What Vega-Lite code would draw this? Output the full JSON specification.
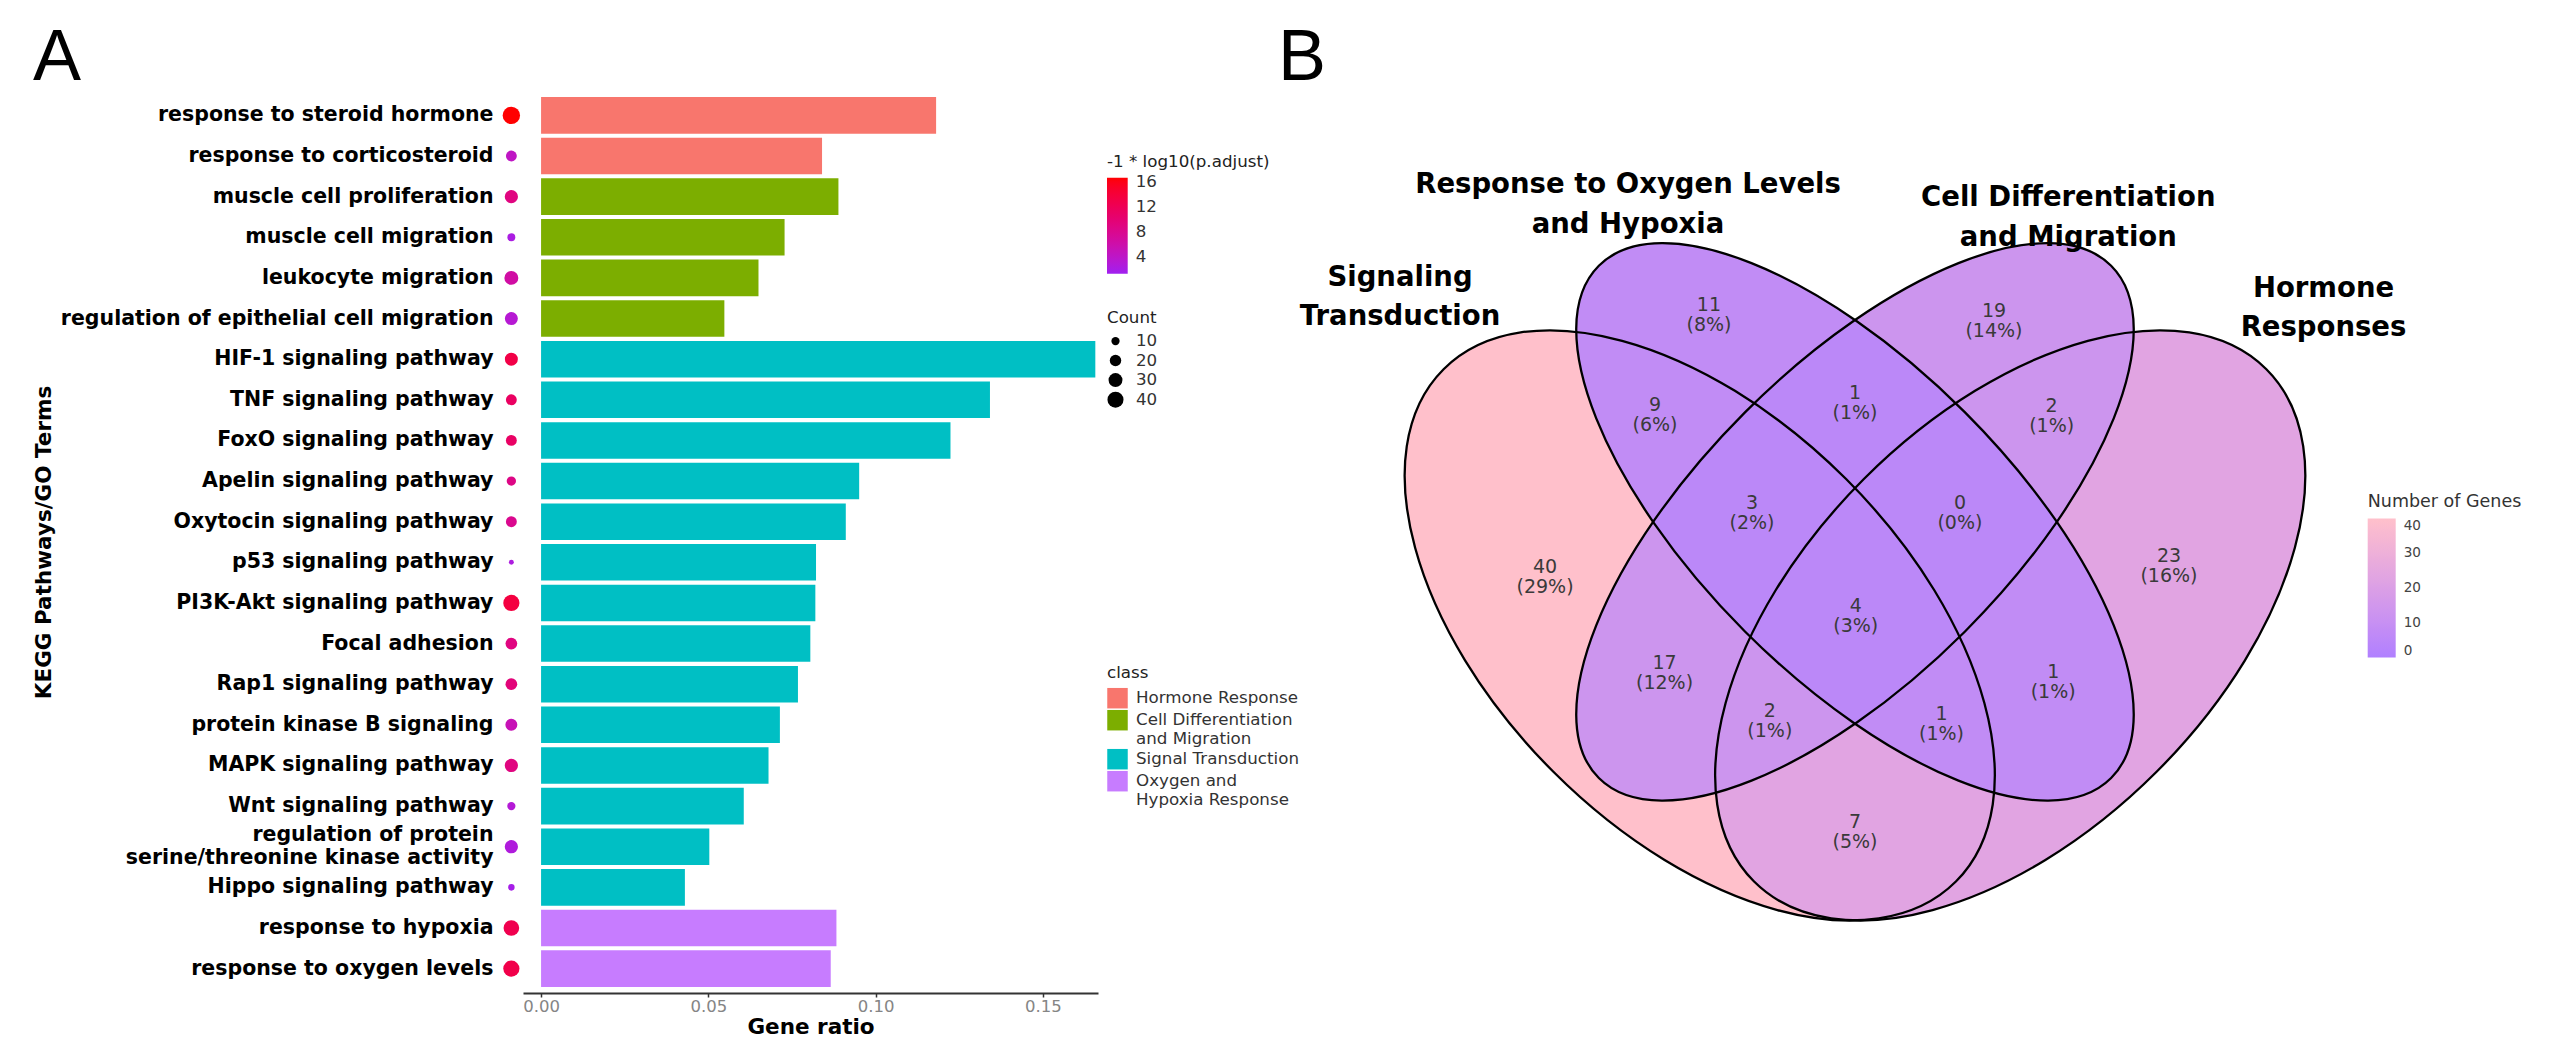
{
  "$schema": "https://vega.github.io/schema/vega-lite/v6.json",
  "padding": {"left": 32, "top": 22, "right": 0, "bottom": 0},
  "autosize": {"type": "pad"},
  "bounds": "flush",
  "spacing": 180,
  "config": {"view": {"stroke": null}, "font": "DejaVu Sans", "axis": {"grid": false}},
  "resolve": {"scale": {"color": "independent", "size": "independent", "shape": "independent"}, "legend": {"color": "independent", "size": "independent"}},
  "datasets": {
    "terms": [
      {"term": "response to steroid hormone", "class": "Hormone Response", "ratio": 0.1181, "nlp": 16.6, "count": 47},
      {"term": "response to corticosteroid", "class": "Hormone Response", "ratio": 0.0840, "nlp": 4.2, "count": 18},
      {"term": "muscle cell proliferation", "class": "Cell Differentiation and Migration", "ratio": 0.0889, "nlp": 9.0, "count": 27},
      {"term": "muscle cell migration", "class": "Cell Differentiation and Migration", "ratio": 0.0728, "nlp": 2.2, "count": 9},
      {"term": "leukocyte migration", "class": "Cell Differentiation and Migration", "ratio": 0.0650, "nlp": 6.5, "count": 30},
      {"term": "regulation of epithelial cell migration", "class": "Cell Differentiation and Migration", "ratio": 0.0548, "nlp": 3.2, "count": 26},
      {"term": "HIF-1 signaling pathway", "class": "Signal Transduction", "ratio": 0.1657, "nlp": 13.0, "count": 26},
      {"term": "TNF signaling pathway", "class": "Signal Transduction", "ratio": 0.1342, "nlp": 11.2, "count": 18},
      {"term": "FoxO signaling pathway", "class": "Signal Transduction", "ratio": 0.1224, "nlp": 11.0, "count": 18},
      {"term": "Apelin signaling pathway", "class": "Signal Transduction", "ratio": 0.0951, "nlp": 8.6, "count": 13},
      {"term": "Oxytocin signaling pathway", "class": "Signal Transduction", "ratio": 0.0911, "nlp": 8.0, "count": 18},
      {"term": "p53 signaling pathway", "class": "Signal Transduction", "ratio": 0.0822, "nlp": 2.4, "count": 3},
      {"term": "PI3K-Akt signaling pathway", "class": "Signal Transduction", "ratio": 0.0820, "nlp": 13.5, "count": 41},
      {"term": "Focal adhesion", "class": "Signal Transduction", "ratio": 0.0805, "nlp": 9.0, "count": 21},
      {"term": "Rap1 signaling pathway", "class": "Signal Transduction", "ratio": 0.0768, "nlp": 9.5, "count": 21},
      {"term": "protein kinase B signaling", "class": "Signal Transduction", "ratio": 0.0714, "nlp": 5.2, "count": 22},
      {"term": "MAPK signaling pathway", "class": "Signal Transduction", "ratio": 0.0680, "nlp": 9.0, "count": 27},
      {"term": "Wnt signaling pathway", "class": "Signal Transduction", "ratio": 0.0606, "nlp": 3.0, "count": 10},
      {"term": "regulation of protein serine/threonine kinase activity", "class": "Signal Transduction", "ratio": 0.0503, "nlp": 2.6, "count": 27},
      {"term": "Hippo signaling pathway", "class": "Signal Transduction", "ratio": 0.0430, "nlp": 1.8, "count": 6},
      {"term": "response to hypoxia", "class": "Oxygen and Hypoxia Response", "ratio": 0.0883, "nlp": 12.5, "count": 38},
      {"term": "response to oxygen levels", "class": "Oxygen and Hypoxia Response", "ratio": 0.0866, "nlp": 12.8, "count": 41}
    ],
    "sets": [
      {"set": "Signaling Transduction", "u": 0.35, "v": 0.47, "a": 0.35, "kind": "outer", "rotation": 45, "unique": 40},
      {"set": "Hormone Responses", "u": 0.65, "v": 0.47, "a": 0.35, "kind": "outer", "rotation": 135, "unique": 23},
      {"set": "Cell Differentiation and Migration", "u": 0.5, "v": 0.57, "a": 0.35, "kind": "inner", "rotation": 135, "unique": 19},
      {"set": "Response to Oxygen Levels and Hypoxia", "u": 0.5, "v": 0.57, "a": 0.35, "kind": "inner", "rotation": 45, "unique": 11}
    ],
    "regions": [
      {"u": 0.2005, "v": 0.5171, "n": 40, "pct": 29},
      {"u": 0.3589, "v": 0.7701, "n": 11, "pct": 8},
      {"u": 0.6343, "v": 0.7639, "n": 19, "pct": 14},
      {"u": 0.8034, "v": 0.5277, "n": 23, "pct": 16},
      {"u": 0.3068, "v": 0.6735, "n": 9, "pct": 6},
      {"u": 0.5, "v": 0.6845, "n": 1, "pct": 1},
      {"u": 0.6900, "v": 0.6722, "n": 2, "pct": 1},
      {"u": 0.4005, "v": 0.5783, "n": 3, "pct": 2},
      {"u": 0.6014, "v": 0.5783, "n": 0, "pct": 0},
      {"u": 0.5007, "v": 0.4795, "n": 4, "pct": 3},
      {"u": 0.3160, "v": 0.4237, "n": 17, "pct": 12},
      {"u": 0.6915, "v": 0.4157, "n": 1, "pct": 1},
      {"u": 0.4177, "v": 0.3776, "n": 2, "pct": 1},
      {"u": 0.5836, "v": 0.3744, "n": 1, "pct": 1},
      {"u": 0.5, "v": 0.2707, "n": 7, "pct": 5}
    ],
    "setlabels": [
      {"name": "Signaling\nTransduction", "u": 0.0604, "v": 0.7870},
      {"name": "Response to Oxygen Levels\nand Hypoxia", "u": 0.2807, "v": 0.8761},
      {"name": "Cell Differentiation\nand Migration", "u": 0.7061, "v": 0.8636},
      {"name": "Hormone\nResponses", "u": 0.9527, "v": 0.7763}
    ]
  },
  "hconcat": [
    {
      "width": 575,
      "height": 902,
      "title": {"text": "A", "anchor": "start", "frame": "bounds", "font": "Liberation Sans", "fontSize": 72, "fontWeight": "normal", "offset": -4, "color": "black"},
      "data": {"name": "terms"},
      "encoding": {
        "y": {
          "field": "term", "type": "nominal", "sort": null,
          "scale": {"paddingInner": 0.1, "paddingOuter": 0.15},
          "axis": {
            "title": "KEGG Pathways/GO Terms", "titleFont": "DejaVu Sans", "titleFontSize": 21.5, "titleFontWeight": "bold", "titleColor": "black",
            "titleX": -468, "titleAngle": 270, "titleBaseline": "bottom",
            "labelFont": "DejaVu Sans", "labelFontSize": 20.5, "labelFontWeight": "bold", "labelColor": "black", "labelPadding": 30, "labelLimit": 600,
            "labelLineHeight": 23.4,
            "labelOffset": {"condition": {"test": "datum.value == 'regulation of protein serine/threonine kinase activity'", "value": -11.7}, "value": 0},
            "labelExpr": "datum.value == 'regulation of protein serine/threonine kinase activity' ? ['regulation of protein', 'serine/threonine kinase activity'] : datum.label",
            "ticks": false, "domain": false
          }
        }
      },
      "layer": [
        {
          "mark": {"type": "bar"},
          "encoding": {
            "x": {
              "field": "ratio", "type": "quantitative",
              "scale": {"domain": [-0.0054, 0.1665], "nice": false, "zero": false},
              "axis": {"title": "Gene ratio", "values": [0, 0.05, 0.1, 0.15], "format": ".2f", "grid": false,
                "domainColor": "#333333", "domainWidth": 2, "tickColor": "#333333", "tickWidth": 1.5, "tickSize": 4,
                "labelFont": "DejaVu Sans", "labelFontSize": 16.5, "labelColor": "#858585", "labelPadding": 1,
                "titleFont": "DejaVu Sans", "titleFontSize": 21.5, "titleFontWeight": "bold", "titleColor": "black", "titlePadding": 2}
            },
            "color": {
              "field": "class", "type": "nominal",
              "scale": {"domain": ["Hormone Response", "Cell Differentiation and Migration", "Signal Transduction", "Oxygen and Hypoxia Response"], "range": ["#F8766D", "#7CAE00", "#00BFC4", "#C77CFF"]},
              "legend": {"orient": "none", "legendX": 584, "legendY": 574, "title": "class", "symbolType": "square", "symbolSize": 420, "symbolStrokeWidth": 0,
                "titleFont": "DejaVu Sans", "titleFontSize": 16.7, "titleFontWeight": "normal", "titleColor": "#222222", "titlePadding": 6,
                "labelFont": "DejaVu Sans", "labelFontSize": 16.7, "labelColor": "#333333", "labelOffset": 8, "rowPadding": 1, "labelLimit": 400,
                "labelExpr": "datum.label == 'Cell Differentiation and Migration' ? ['Cell Differentiation', 'and Migration'] : datum.label == 'Oxygen and Hypoxia Response' ? ['Oxygen and', 'Hypoxia Response'] : datum.label"}
            }
          }
        },
        {
          "mark": {"type": "point", "filled": true, "opacity": 1, "strokeWidth": 0},
          "encoding": {
            "x": {"datum": -0.00888, "type": "quantitative"},
            "size": {
              "field": "count", "type": "quantitative", "title": "Count",
              "scale": {"domain": [0, 50], "range": [5, 320]},
              "legend": {"orient": "none", "legendX": 584, "legendY": 219, "values": [10, 20, 30, 40], "symbolType": "circle",
                "symbolFillColor": "black", "symbolStrokeColor": "black", "symbolStrokeWidth": 0,
                "titleFont": "DejaVu Sans", "titleFontSize": 16.7, "titleFontWeight": "normal", "titleColor": "#222222", "titlePadding": 6,
                "labelFont": "DejaVu Sans", "labelFontSize": 16.7, "labelColor": "#333333", "labelOffset": 12, "rowPadding": 1.5}
            },
            "color": {
              "field": "nlp", "type": "quantitative", "title": "-1 * log10(p.adjust)",
              "scale": {"domain": [1.28, 16.64], "range": ["#A020F0", "#FF0000"], "interpolate": "lab"},
              "legend": {"orient": "none", "legendX": 584, "legendY": 63, "direction": "vertical", "gradientLength": 96, "gradientThickness": 20.7,
                "values": [4, 8, 12, 16], "gradientStrokeWidth": 0,
                "titleFont": "DejaVu Sans", "titleFontSize": 16.7, "titleFontWeight": "normal", "titleColor": "#222222", "titlePadding": 7,
                "labelFont": "DejaVu Sans", "labelFontSize": 16.7, "labelColor": "#333333", "labelOffset": 8}
            }
          }
        }
      ],
      "resolve": {"scale": {"color": "independent"}}
    },
    {
      "width": 1066,
      "height": 902,
      "title": {"text": "B", "anchor": "start", "frame": "group", "font": "Liberation Sans", "fontSize": 72, "fontWeight": "normal", "offset": -4, "color": "black"},
      "encoding": {
        "x": {"field": "u", "type": "quantitative", "scale": {"domain": [-0.0575, 0.9725], "nice": false, "zero": false}, "axis": null},
        "y": {"field": "v", "type": "quantitative", "scale": {"domain": [0.11484, 0.98634], "nice": false, "zero": false}, "axis": null}
      },
      "layer": [
        {
          "data": {"name": "sets"},
          "mark": {"type": "point", "filled": true, "opacity": 1, "strokeWidth": 0},
          "encoding": {
            "size": {"field": "a", "type": "quantitative", "scale": {"type": "pow", "exponent": 2, "domain": [0, 0.35], "range": [0, 524900]}, "legend": null},
            "shape": {"field": "kind", "type": "nominal", "scale": {"domain": ["outer", "inner"], "range": ["M1,0C1,0.3156,0.5523,0.5714,0,0.5714C-0.5523,0.5714,-1,0.3156,-1,0C-1,-0.3156,-0.5523,-0.5714,0,-0.5714C0.5523,-0.5714,1,-0.3156,1,0Z", "M1,0C1,0.2367,0.5523,0.4286,0,0.4286C-0.5523,0.4286,-1,0.2367,-1,0C-1,-0.2367,-0.5523,-0.4286,0,-0.4286C0.5523,-0.4286,1,-0.2367,1,0Z"]}, "legend": null},
            "angle": {"field": "rotation", "type": "quantitative", "scale": null},
            "color": {
              "field": "unique", "type": "quantitative", "title": "Number of Genes",
              "scale": {"domain": [0, 40], "range": ["#B080FF", "#FFC0CB"], "interpolate": "lab"},
              "legend": {"orient": "none", "legendX": 1089.7, "legendY": 402, "direction": "vertical", "gradientLength": 139, "gradientThickness": 28,
                "values": [0, 10, 20, 30, 40], "gradientStrokeWidth": 0,
                "titleFont": "DejaVu Sans", "titleFontSize": 17.5, "titleFontWeight": "normal", "titleColor": "#333333", "titlePadding": 8,
                "labelFont": "DejaVu Sans", "labelFontSize": 13.6, "labelColor": "#444444", "labelOffset": 8}
            }
          }
        },
        {
          "data": {"name": "sets"},
          "transform": [{"filter": "datum.kind == 'inner'"}],
          "mark": {"type": "point", "filled": true, "color": "#B080FF", "opacity": 0.3, "strokeWidth": 0},
          "encoding": {
            "size": {"field": "a", "type": "quantitative", "scale": {"type": "pow", "exponent": 2, "domain": [0, 0.35], "range": [0, 524900]}, "legend": null},
            "shape": {"field": "kind", "type": "nominal", "scale": {"domain": ["outer", "inner"], "range": ["M1,0C1,0.3156,0.5523,0.5714,0,0.5714C-0.5523,0.5714,-1,0.3156,-1,0C-1,-0.3156,-0.5523,-0.5714,0,-0.5714C0.5523,-0.5714,1,-0.3156,1,0Z", "M1,0C1,0.2367,0.5523,0.4286,0,0.4286C-0.5523,0.4286,-1,0.2367,-1,0C-1,-0.2367,-0.5523,-0.4286,0,-0.4286C0.5523,-0.4286,1,-0.2367,1,0Z"]}, "legend": null},
            "angle": {"field": "rotation", "type": "quantitative", "scale": null}
          }
        },
        {
          "data": {"name": "sets"},
          "mark": {"type": "point", "filled": false, "color": "black", "strokeWidth": 2.3, "opacity": 1},
          "encoding": {
            "size": {"field": "a", "type": "quantitative", "scale": {"type": "pow", "exponent": 2, "domain": [0, 0.35], "range": [0, 524900]}, "legend": null},
            "shape": {"field": "kind", "type": "nominal", "scale": {"domain": ["outer", "inner"], "range": ["M1,0C1,0.3156,0.5523,0.5714,0,0.5714C-0.5523,0.5714,-1,0.3156,-1,0C-1,-0.3156,-0.5523,-0.5714,0,-0.5714C0.5523,-0.5714,1,-0.3156,1,0Z", "M1,0C1,0.2367,0.5523,0.4286,0,0.4286C-0.5523,0.4286,-1,0.2367,-1,0C-1,-0.2367,-0.5523,-0.4286,0,-0.4286C0.5523,-0.4286,1,-0.2367,1,0Z"]}, "legend": null},
            "angle": {"field": "rotation", "type": "quantitative", "scale": null}
          }
        },
        {
          "data": {"name": "regions"},
          "transform": [{"calculate": "datum.n + '\\n(' + datum.pct + '%)'", "as": "label"}],
          "mark": {"type": "text", "lineBreak": "\n", "font": "DejaVu Sans", "fontSize": 19, "lineHeight": 20, "dy": -10, "color": "#3a3a3a", "align": "center", "baseline": "middle"},
          "encoding": {"text": {"field": "label", "type": "nominal"}}
        },
        {
          "data": {"name": "setlabels"},
          "mark": {"type": "text", "lineBreak": "\n", "font": "DejaVu Sans", "fontSize": 27.5, "fontWeight": "bold", "lineHeight": 39.5, "dy": -19.75, "color": "black", "align": "center", "baseline": "middle"},
          "encoding": {"text": {"field": "name", "type": "nominal"}}
        }
      ]
    }
  ]
}
